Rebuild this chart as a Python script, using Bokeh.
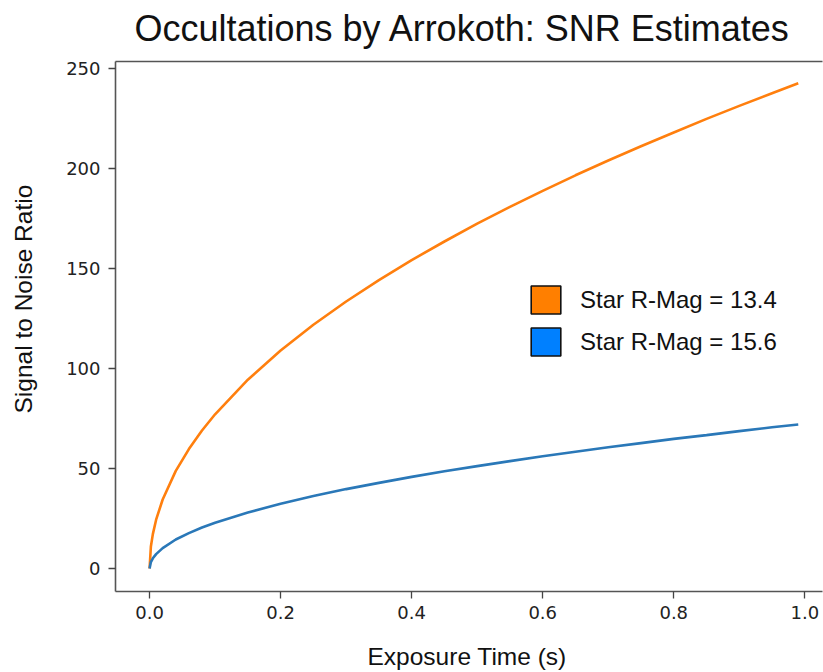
from bokeh.plotting import figure
from bokeh.models import (Range1d, LinearAxis, Legend, LegendItem, FixedTicker,
                          ColumnDataSource, PrintfTickFormatter, Title)
from bokeh.embed import file_html
from bokeh.resources import INLINE

# ---- data ----
exposure_s = [0, 0.002, 0.005, 0.01, 0.02, 0.04, 0.06, 0.08, 0.1, 0.15, 0.2, 0.25,
              0.3, 0.35, 0.4, 0.45, 0.5, 0.55, 0.6, 0.65, 0.7, 0.75, 0.8, 0.85,
              0.9, 0.95, 0.99]
snr_mag_13_4 = [0, 11, 17.2, 24.4, 34.5, 48.8, 59.7, 69, 77.1, 94.4, 109, 121.9,
                133.5, 144.2, 154.2, 163.5, 172.4, 180.8, 188.8, 196.6, 204, 211.1,
                218, 224.8, 231.3, 237.6, 242.6]
snr_mag_15_6 = [0, 3.2, 5.1, 7.2, 10.2, 14.5, 17.7, 20.5, 22.9, 28, 32.4, 36.2,
                39.7, 42.8, 45.8, 48.6, 51.2, 53.7, 56.1, 58.4, 60.6, 62.7, 64.8,
                66.7, 68.7, 70.6, 72]
legend_labels = ["Star R-Mag = 13.4", "Star R-Mag = 15.6"]
x_ticks = [0.0, 0.2, 0.4, 0.6, 0.8, 1.0]
y_ticks = [0, 50, 100, 150, 200, 250]

p = figure(width=823, height=672, output_backend="svg", toolbar_location=None,
           x_range=Range1d(-0.052, 1.027), y_range=Range1d(-11.5, 253.5),
           min_border_left=115, min_border_right=1, min_border_top=61,
           min_border_bottom=81)
p.outline_line_color = None
p.xgrid.visible = False
p.ygrid.visible = False
p.background_fill_color = "white"
p.border_fill_color = "white"

p.title.text = "Occultations by Arrokoth: SNR Estimates"
p.title.align = "left"
p.title.offset = 19
p.title.standoff = 11
p.title.text_font = "Liberation Sans"
p.title.text_font_size = "36px"
p.title.text_font_style = "normal"
p.title.text_color = "#111111"

p.line(exposure_s, snr_mag_13_4, line_color="#ff7f0e", line_width=2.6)
p.line(exposure_s, snr_mag_15_6, line_color="#2a78b8", line_width=2.6)

# axes
p.xaxis.ticker = FixedTicker(ticks=x_ticks)
p.yaxis.ticker = FixedTicker(ticks=y_ticks)
p.xaxis.formatter = PrintfTickFormatter(format="%.1f")
p.yaxis.formatter = PrintfTickFormatter(format="%d")
for ax in (p.xaxis[0], p.yaxis[0]):
    ax.axis_line_color = "#555555"
    ax.axis_line_width = 1.6
    ax.major_tick_line_color = "#444444"
    ax.major_tick_line_width = 1.3
    ax.major_tick_in = 0
    ax.major_tick_out = 7
    ax.minor_tick_in = 0
    ax.minor_tick_out = 0
    ax.major_label_text_font = "DejaVu Sans"
    ax.major_label_text_font_size = "18px"
    ax.major_label_text_color = "#222222"
    # blank spacer label: pushes the axis titles outward
    ax.axis_label = " "
    ax.axis_label_text_font_size = "1px"
p.xaxis.major_label_standoff = 7
p.yaxis.major_label_standoff = 8
p.xaxis.axis_label_standoff = 15
p.yaxis.axis_label_standoff = 23

# axis titles, positioned as in the reference
xlab = Title(text="Exposure Time (s)", align="left", offset=252, standoff=0,
             text_font="Liberation Sans", text_font_size="24.5px",
             text_font_style="normal", text_color="#111111")
p.add_layout(xlab, "below")
ylab = Title(text="Signal to Noise Ratio", align="left", offset=178, standoff=0,
             text_font="Liberation Sans", text_font_size="24.5px",
             text_font_style="normal", text_color="#111111")
p.add_layout(ylab, "left")

top_axis = LinearAxis(ticker=FixedTicker(ticks=[]), major_tick_in=0, major_tick_out=0,
                      minor_tick_in=0, minor_tick_out=0, major_label_text_font_size="0px",
                      major_label_standoff=0, axis_line_color="#555555",
                      axis_line_width=1.6, axis_label=" ",
                      axis_label_text_font_size="1px", axis_label_standoff=3)
p.add_layout(top_axis, "above")

# legend with square patches (renderers hold no drawable point)
nan = float("nan")
legend_src = ColumnDataSource(dict(left=[nan], right=[nan], top=[nan], bottom=[nan]))
r_or = p.quad(left="left", right="right", top="top", bottom="bottom", source=legend_src,
              fill_color="#ff7f00", line_color="#111111", line_width=1.6)
r_bl = p.quad(left="left", right="right", top="top", bottom="bottom", source=legend_src,
              fill_color="#0080ff", line_color="#111111", line_width=1.6)
legend = Legend(items=[LegendItem(label=legend_labels[0], renderers=[r_or]),
                       LegendItem(label=legend_labels[1], renderers=[r_bl])],
                location=(412, 232), glyph_width=37, glyph_height=35,
                label_standoff=16, spacing=7, padding=0, margin=0,
                border_line_color=None, background_fill_alpha=0,
                label_text_font="Liberation Sans", label_text_font_size="24px",
                label_text_color="#111111")
p.add_layout(legend)

open("out.html", "w").write(file_html(p, INLINE))
